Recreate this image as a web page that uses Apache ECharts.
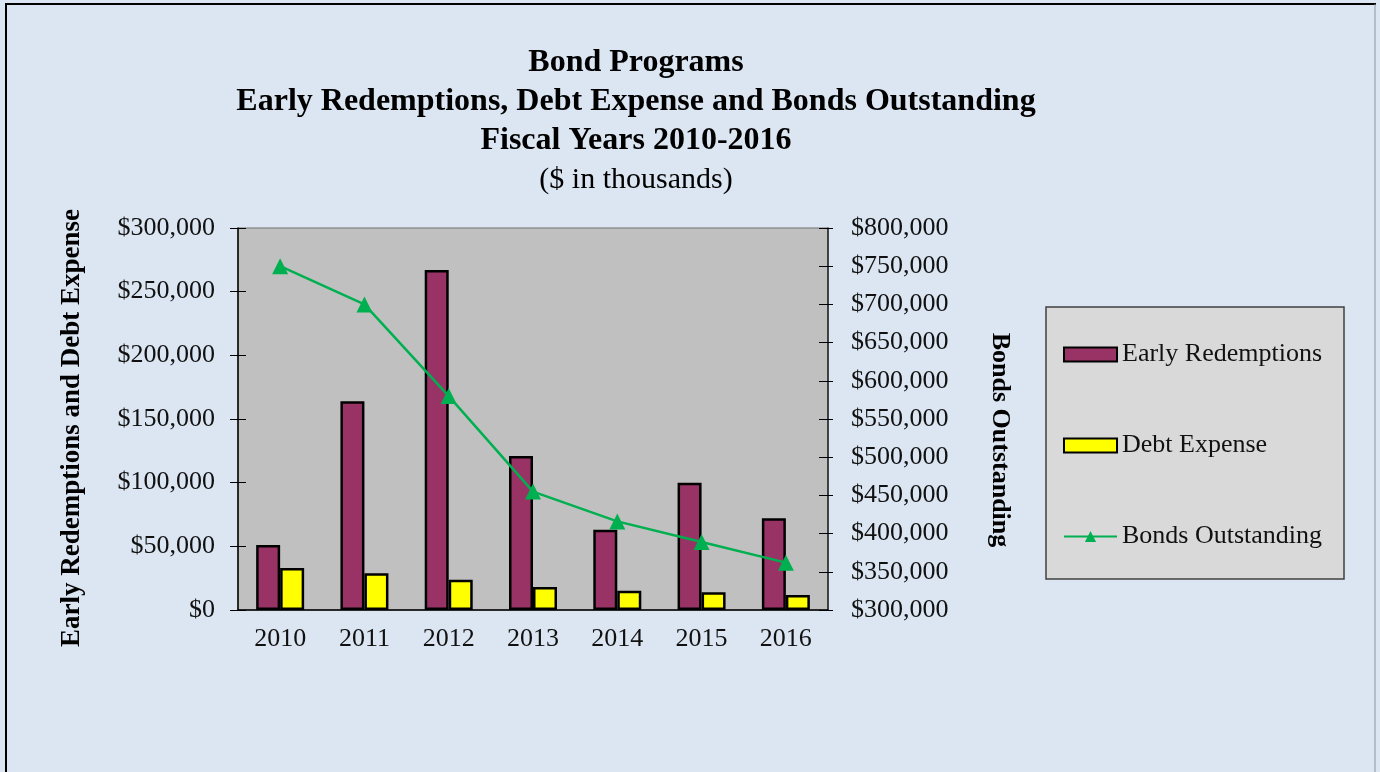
<!DOCTYPE html>
<html>
<head>
<meta charset="utf-8">
<script src="https://cdn.jsdelivr.net/npm/echarts@6/dist/echarts.min.js"></script>
<style>
html,body{margin:0;padding:0;background:#dce6f2;}
#chart{width:1380px;height:772px;}
</style>
</head>
<body>
<div id="chart"></div>
<script>
var years = ['2010','2011','2012','2013','2014','2015','2016'];
var earlyRedemptions = [51000, 164000, 267000, 121000, 63000, 100000, 72000];
var debtExpense = [33000, 28800, 23800, 18100, 15200, 13900, 11800];
var bondsOutstanding = [750000, 700000, 580000, 455000, 416000, 389000, 362000];
var titleLines = ['Bond Programs', 'Early Redemptions, Debt Expense and Bonds Outstanding', 'Fiscal Years 2010-2016', '($ in thousands)'];
var leftAxisName = 'Early Redemptions and Debt Expense';
var rightAxisName = 'Bonds Outstanding';

var FONT = "'Liberation Serif', 'Times New Roman', serif";
var chart = echarts.init(document.getElementById('chart'));

function money(v){ return '$' + Math.round(v).toLocaleString('en-US'); }

var lineYs = [63, 102, 141, 180];
var titleGraphics = titleLines.map(function(t, i){
  return {
    type: 'text',
    style: {
      text: t, x: 636, y: lineYs[i], textAlign: 'center', textVerticalAlign: 'middle',
      fontFamily: FONT, fontSize: i < 3 ? 32 : 30, fontWeight: i < 3 ? 'bold' : 'normal', fill: '#000'
    }
  };
});

var labelStyle = {fontFamily: FONT, fontSize: 26, color: '#111'};

var option = {
  backgroundColor: '#dce6f2',
  animation: false,
  grid: {left: 238, right: 552, top: 228, bottom: 162, show: true, backgroundColor: '#c0c0c0', borderColor: '#707070', borderWidth: 1},
  legend: {
    orient: 'vertical', left: 1063, top: 341, padding: 0, itemGap: 64,
    itemWidth: 53, itemHeight: 14,
    textStyle: {fontFamily: FONT, fontSize: 26, color: '#111', lineHeight: 27},
    data: [{name: 'Early Redemptions', icon: 'rect'}, {name: 'Debt Expense', icon: 'rect'}, {name: 'Bonds Outstanding'}]
  },
  xAxis: [{
    type: 'category', data: years, position: 'bottom',
    axisLine: {lineStyle: {color: '#000', width: 1.5}},
    axisTick: {length: 9, lineStyle: {color: '#000'}},
    axisLabel: Object.assign({margin: 16}, labelStyle)
  }, {
    type: 'category', data: years, position: 'bottom',
    axisLine: {show: false},
    axisTick: {inside: true, length: 8, lineStyle: {color: '#000'}},
    axisLabel: {show: false}
  }],
  yAxis: [{
    type: 'value', min: 0, max: 300000, interval: 50000, position: 'left',
    axisLine: {show: true, lineStyle: {color: '#000', width: 1.5}},
    axisTick: {show: true, length: 8, lineStyle: {color: '#000'}},
    splitLine: {show: false},
    axisLabel: Object.assign({margin: 23, formatter: money}, labelStyle)
  }, {
    type: 'value', min: 300000, max: 800000, interval: 50000, position: 'right',
    axisLine: {show: true, lineStyle: {color: '#222', width: 1.5}},
    axisTick: {show: true, length: 5, lineStyle: {color: '#000'}},
    splitLine: {show: false},
    axisLabel: Object.assign({margin: 23, formatter: money}, labelStyle)
  }, {
    type: 'value', min: 0, max: 300000, interval: 50000, position: 'left',
    axisLine: {show: false}, axisTick: {show: true, inside: true, length: 8, lineStyle: {color: '#000'}},
    splitLine: {show: false}, axisLabel: {show: false}
  }, {
    type: 'value', min: 300000, max: 800000, interval: 50000, position: 'right',
    axisLine: {show: false}, axisTick: {show: true, inside: true, length: 9, lineStyle: {color: '#000'}},
    splitLine: {show: false}, axisLabel: {show: false}
  }],
  series: [{
    name: 'Early Redemptions', type: 'bar', data: earlyRedemptions, xAxisIndex: 0, yAxisIndex: 0,
    barWidth: 24, barGap: '0%',
    itemStyle: {color: '#993366', borderColor: '#000', borderWidth: 2.5}
  }, {
    name: 'Debt Expense', type: 'bar', data: debtExpense, xAxisIndex: 0, yAxisIndex: 0,
    barWidth: 24, barGap: '0%',
    itemStyle: {color: '#ffff00', borderColor: '#000', borderWidth: 2.5}
  }, {
    name: 'Bonds Outstanding', type: 'line', data: bondsOutstanding, xAxisIndex: 0, yAxisIndex: 1,
    symbol: 'triangle', symbolSize: 16,
    lineStyle: {color: '#00b050', width: 2.5},
    itemStyle: {color: '#00b050'}
  }],
  graphic: [
    {type: 'rect', z: -10, shape: {x: 1046, y: 307, width: 298, height: 272}, style: {fill: '#d9d9d9', stroke: '#404040', lineWidth: 1.5}},
    {type: 'line', shape: {x1: 5, y1: 4, x2: 1376, y2: 4}, style: {stroke: '#000', lineWidth: 2}},
    {type: 'line', shape: {x1: 6, y1: 4, x2: 6, y2: 772}, style: {stroke: '#000', lineWidth: 2}},
    {type: 'line', shape: {x1: 1375, y1: 4, x2: 1375, y2: 772}, style: {stroke: '#8a96a8', lineWidth: 1}},
    {type: 'text', style: {text: leftAxisName, x: 0, y: 0, textAlign: 'center', textVerticalAlign: 'middle', fontFamily: FONT, fontSize: 27, fontWeight: 'bold', fill: '#000'}, x: 72, y: 428, rotation: Math.PI / 2},
    {type: 'text', style: {text: rightAxisName, x: 0, y: 0, textAlign: 'center', textVerticalAlign: 'middle', fontFamily: FONT, fontSize: 26, fontWeight: 'bold', fill: '#000'}, x: 1000, y: 440, rotation: -Math.PI / 2}
  ].concat(titleGraphics)
};
chart.setOption(option);
</script>
</body>
</html>
